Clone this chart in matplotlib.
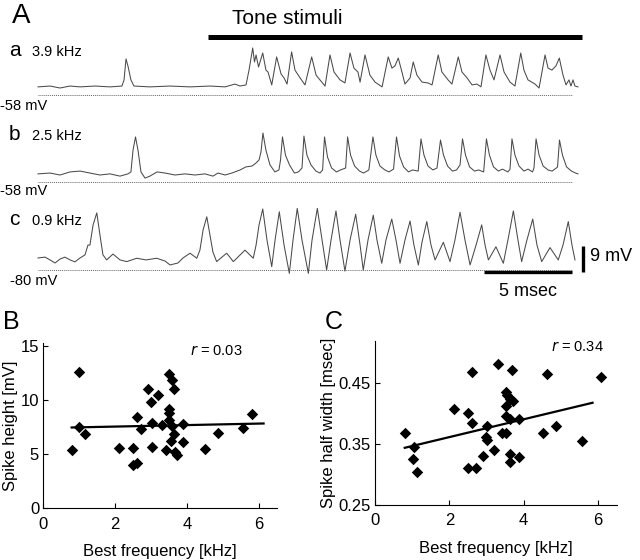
import matplotlib
matplotlib.use("Agg")
import matplotlib.pyplot as plt

plt.rcParams['font.family'] = ['Liberation Sans', 'DejaVu Sans']

# ---------------- Panel A traces (time in ms, voltage in mV above the reference level)
trace_a_t = [0.00, 0.68, 1.25, 1.82, 2.39, 3.24, 4.09, 4.77, 4.89, 5.00, 5.11, 5.28, 5.45, 6.36, 7.50, 8.64,
             9.77, 10.63, 11.19, 11.48, 11.82, 11.99, 12.20, 12.30, 12.39, 12.53, 12.77, 12.95, 13.07, 13.28,
             13.56, 13.81, 13.98, 14.15, 14.41, 14.60, 14.89, 15.17, 15.55, 15.80, 16.02, 16.31, 16.59, 16.82,
             17.16, 17.44, 17.73, 17.95, 18.18, 18.30, 18.58, 18.86, 19.15, 19.55, 19.90, 20.11, 20.28, 20.47,
             20.68, 20.85, 21.14, 21.32, 21.53, 21.82, 22.16, 22.39, 22.74, 22.95, 23.30, 23.52, 23.88, 24.09,
             24.38, 24.66, 24.94, 25.17, 25.45, 25.68, 25.91, 26.25, 26.48, 26.82, 27.10, 27.43, 27.61, 27.84,
             28.24, 28.47, 28.81, 28.98, 29.20, 29.43, 29.62, 29.83, 30.00, 30.17, 30.28, 30.40, 30.51, 30.68]
trace_a_v = [2.9, 3.2, 2.5, 3.2, 2.9, 3.2, 2.9, 3.2, 5.4, 12.9, 10.4, 5.4, 3.2, 2.9, 3.2, 2.9,
             3.2, 2.9, 3.9, 3.2, 3.6, 8.9, 16.8, 11.8, 14.3, 10.0, 15.0, 8.9, 8.2, 3.6,
             13.6, 7.5, 6.1, 3.9, 15.4, 8.9, 6.1, 3.6, 13.6, 7.1, 5.4, 3.2, 14.3, 8.2,
             5.4, 4.3, 15.0, 9.6, 8.2, 4.6, 14.3, 7.1, 4.6, 2.9, 13.6, 9.6, 10.4, 13.2,
             8.2, 3.9, 6.1, 11.8, 7.1, 4.6, 4.3, 3.6, 14.3, 8.2, 5.4, 3.9, 13.6, 8.2,
             6.1, 3.6, 3.9, 2.9, 14.3, 8.9, 5.4, 14.3, 8.2, 4.6, 3.2, 15.0, 8.9, 5.4,
             3.9, 2.5, 14.3, 9.6, 8.9, 10.4, 13.2, 7.1, 3.6, 5.4, 3.2, 5.4, 3.2, 2.9]

trace_b_t = [0.00, 0.68, 1.25, 1.82, 2.39, 2.95, 3.52, 4.09, 4.66, 5.11, 5.28, 5.40, 5.54, 5.68, 5.85, 6.08,
             6.36, 6.76, 7.22, 7.78, 8.35, 8.92, 9.49, 9.94, 10.23, 10.63, 11.02, 11.48, 11.82, 12.16, 12.39,
             12.56, 12.67,
             12.78, 12.95, 13.18, 13.46, 13.69, 13.78,
             13.89, 14.06, 14.29, 14.57, 14.80, 15.00,
             15.11, 15.28, 15.51, 15.79, 16.02, 16.17,
             16.28, 16.45, 16.68, 16.96, 17.19, 17.48,
             17.59, 17.76, 17.99, 18.27, 18.50, 18.80,
             19.03, 19.20, 19.43, 19.71, 19.94, 20.20,
             20.37, 20.54, 20.77, 21.05, 21.28, 21.60,
             21.76, 21.93, 22.16, 22.44, 22.67,
             22.87, 23.04, 23.27, 23.55, 23.78, 23.98,
             24.12, 24.29, 24.52, 24.80, 25.03, 25.32,
             25.48, 25.65, 25.88, 26.16, 26.39, 26.70, 26.82,
             26.93, 27.10, 27.33, 27.61, 27.84, 28.10, 28.18,
             28.30, 28.47, 28.70, 28.98, 29.21, 29.45, 29.52,
             29.63, 29.80, 30.03, 30.31, 30.54, 30.68]
trace_b_v = [2.9, 3.2, 2.5, 3.6, 3.9, 3.2, 2.5, 2.9, 2.1, 2.9, 3.6, 11.4, 16.1, 11.4, 3.6, 1.4,
             2.1, 3.6, 3.2, 2.5, 2.9, 2.5, 2.9, 2.1, 3.2, 2.5, 3.2, 4.3, 5.4, 5.7, 6.8,
             7.9, 10.7,
             17.5, 11.4, 6.1, 3.6, 4.3, 7.9,
             16.1, 9.6, 6.1, 3.2, 3.6, 5.0,
             16.4, 9.6, 6.1, 3.9, 3.2, 4.3,
             16.1, 8.9, 5.0, 3.6, 4.3, 5.0,
             16.1, 9.6, 5.7, 3.9, 3.2, 4.3,
             16.1, 9.6, 5.7, 4.3, 3.6, 4.6,
             16.1, 9.3, 5.4, 3.6, 4.3, 3.9,
             15.4, 9.6, 5.7, 4.3, 5.0,
             15.0, 9.6, 5.7, 3.9, 4.3, 6.1,
             15.4, 9.6, 5.4, 3.9, 4.3, 3.6,
             15.4, 9.6, 5.4, 3.9, 4.6, 3.6, 4.6,
             15.4, 9.6, 5.7, 3.9, 4.6, 3.6, 5.0,
             15.4, 9.6, 5.7, 4.3, 3.9, 5.0, 5.4,
             15.0, 9.6, 5.4, 3.9, 3.2, 2.9]

trace_c_t = [0.00, 0.40, 0.68, 0.97, 1.25, 1.53, 1.82, 2.10, 2.39, 2.67, 2.84, 2.95, 3.13, 3.34, 3.52, 3.69,
             3.90, 4.26, 4.66, 5.04, 5.61, 6.14, 6.74, 7.22, 7.50, 7.95, 8.24, 8.64, 9.02, 9.20, 9.38,
             9.59, 9.77, 9.94, 10.15, 10.72, 11.10, 11.76, 12.23, 12.39, 12.56, 12.77, 13.01, 13.28, 13.47,
             13.71, 13.98, 14.28, 14.49, 14.73, 15.00, 15.36, 15.57, 15.87, 16.14, 16.40, 16.65, 16.93, 17.16,
             17.44, 17.73, 18.05, 18.30, 18.48, 18.75, 19.05, 19.26, 19.53, 19.77, 20.10, 20.34, 20.57, 20.85,
             21.14, 21.36, 21.61, 21.82, 22.09, 22.33, 22.56, 23.03, 23.41, 23.69, 23.98, 24.26, 24.55, 24.89,
             25.21, 25.40, 25.59, 26.02, 26.44, 26.70, 27.01, 27.27, 27.48, 27.78, 28.11, 28.35, 28.62, 29.09,
             29.56, 29.83, 30.13, 30.34, 30.51]
trace_c_v = [4.3, 4.6, 3.6, 2.5, 3.9, 4.6, 3.6, 2.9, 4.3, 5.4, 8.9, 8.9, 16.1, 20.4, 12.5, 5.4,
             3.6, 5.7, 3.6, 3.0, 4.2, 3.6, 4.2, 3.2, 1.8, 2.5, 4.3, 6.0, 4.2, 7.1, 14.3,
             19.0, 12.5, 6.4, 3.0, 6.0, 3.0, 7.1, 4.2, 8.9, 16.1, 21.8, 10.7, 1.2, 10.7,
             20.8, 8.9, -1.2, 10.7, 22.0, 10.7, -1.2, 10.7, 22.0, 10.7, 0.0, 10.7, 21.1, 10.7,
             -0.4, 10.7, 19.9, 8.9, 0.0, 10.7, 19.6, 10.7, 2.4, 10.7, 18.2, 10.7, 2.4, 10.7,
             17.5, 8.9, 1.8, 10.0, 17.3, 8.9, 3.6, 9.9, 3.0, 10.7, 20.6, 10.7, 1.8, 8.9,
             16.1, 8.9, 3.6, 8.3, 2.4, 10.7, 21.1, 10.7, 3.0, 10.7, 18.2, 8.9, 3.0, 8.0,
             3.6, 8.9, 17.3, 8.9, 3.6]

trace_freqs = ['3.9 kHz', '2.5 kHz', '0.9 kHz']
trace_letters = ['a', 'b', 'c']
trace_rest = ['-58 mV', '-58 mV', '-80 mV']
tone_on, tone_off = 9.66, 30.91          # ms
ref_end = 30.34                          # ms, end of dotted reference line
bar_time, bar_volt = 5, 9                # scale bars: 5 msec, 9 mV

# ---------------- Panel B / C data
bf_b = [0.79, 1.0, 1.0, 1.16, 2.11, 2.51, 2.51, 2.62, 2.6, 2.72, 2.91, 3.0, 3.02, 3.02, 3.2, 3.32, 3.42,
        3.5, 3.6, 3.5, 3.5, 3.5, 3.63, 3.6, 3.63, 3.55, 3.67, 3.72, 3.89, 3.9, 4.51, 4.88, 5.58, 5.83]
height_b = [5.38, 12.6, 7.5, 6.86, 5.6, 5.54, 4.0, 4.2, 8.46, 7.38, 11.0, 9.85, 7.9, 5.7, 10.46, 7.7, 5.38,
            12.4, 11.85, 9.23, 8.83, 8.15, 11.0, 7.6, 6.92, 6.25, 5.17, 4.92, 7.8, 6.15, 5.45, 7.0, 7.45, 8.7]
fit_b_x = [0.79, 6.14]
fit_b_y = [7.48, 7.85]

bf_c = [0.80, 1.04, 1.03, 1.14, 2.12, 2.5, 2.62, 2.61, 2.5, 2.72, 2.9, 3.01, 2.99, 3.02, 3.2, 3.3, 3.42,
        3.51, 3.51, 3.54, 3.62, 3.71, 3.51, 3.51, 3.63, 3.62, 3.62, 3.68, 3.88, 3.88, 4.51, 4.62, 4.88,
        5.58, 6.07]
width_c = [0.369, 0.346, 0.325, 0.305, 0.407, 0.401, 0.384, 0.469, 0.310, 0.310, 0.331, 0.380, 0.361,
           0.357, 0.340, 0.482, 0.368, 0.369, 0.436, 0.431, 0.425, 0.421, 0.412, 0.396, 0.391, 0.333,
           0.320, 0.472, 0.391, 0.329, 0.369, 0.465, 0.380, 0.355, 0.460]
fit_c_x = [0.80, 5.85]
fit_c_y = [0.344, 0.418]

# ---------------- Figure
W, H = 640, 560
fig = plt.figure(figsize=(6.4, 5.6), dpi=100)

def ftext(x, y, s, **kw):
    kw.setdefault('va', 'center')
    fig.text(x / W, 1 - y / H, s, **kw)

# Panel A axes: 17.6 px per ms, 2.8 px per mV
pxms, pxmv = 17.6, 2.8
x0 = 38
axA = fig.add_axes([0, 1 - 310 / H, 1, 310 / H])
axA.set_xlim(-x0 / pxms, (W - x0) / pxms)
axA.set_ylim(0, 310 / pxmv)
axA.axis('off')

ref_px = [95, 182, 270]
offsets = [(310 - r) / pxmv for r in ref_px]
traces = [(trace_a_t, trace_a_v), (trace_b_t, trace_b_v), (trace_c_t, trace_c_v)]
for (tt, vv), off in zip(traces, offsets):
    axA.plot(tt, [v + off for v in vv], color='#4a4a4a', lw=0.75, solid_joinstyle='round')
    axA.plot([0, ref_end], [off, off], color='#666666', lw=0.7, ls=(0, (1, 1)))

# tone bar
tone_y = (310 - 37) / pxmv
axA.plot([tone_on, tone_off], [tone_y, tone_y], color='black', lw=3.6, solid_capstyle='butt')

# scale bars
sb_y = (310 - 271.5) / pxmv
axA.plot([ref_end - bar_time, ref_end], [sb_y, sb_y], color='black', lw=2.4, solid_capstyle='butt')
sb_x = (583 - x0) / pxms
axA.plot([sb_x, sb_x], [sb_y, sb_y + bar_volt], color='black', lw=2.4, solid_capstyle='butt')

ftext(12, 16, 'A', fontsize=20, ha='left')
ftext(287, 18, 'Tone stimuli', fontsize=15, ha='center')
lab_y = [51, 135, 220]
rest_y = [106, 191, 281]
rest_x = [0, 0, 10]
for i in range(3):
    ftext(9, lab_y[i], trace_letters[i], fontsize=15, ha='left')
    ftext(32, lab_y[i] + 1, trace_freqs[i], fontsize=10.5, ha='left')
    ftext(rest_x[i], rest_y[i], trace_rest[i], fontsize=10.5, ha='left')
ftext(590, 257, '%d mV' % bar_volt, fontsize=13, ha='left')
ftext(528, 291, '%d msec' % bar_time, fontsize=13, ha='center')

# ---------------- Panels B and C
def style(ax):
    for s in ['top', 'right']:
        ax.spines[s].set_visible(False)
    for s in ['left', 'bottom']:
        ax.spines[s].set_linewidth(0.8)
    ax.tick_params(direction='in', length=3.5, width=0.8, labelsize=12)
    ax.tick_params(axis='y', pad=3)
    ax.tick_params(axis='x', pad=6)

axB = fig.add_axes([43.3 / W, (H - 508.3) / H, (276.5 - 43.3) / W, (508.3 - 343) / H])
axB.scatter(bf_b, height_b, marker='D', s=34, color='black', zorder=3, linewidths=0)
axB.plot(fit_b_x, fit_b_y, color='black', lw=1.6)
axB.set_xlim(0, 6.5)
axB.set_ylim(0, 15.3)
axB.set_xticks([0, 2, 4, 6])
axB.set_yticks([0, 5, 10, 15])
style(axB)
axB.set_xlabel('Best frequency [kHz]', fontsize=12, labelpad=9)
axB.set_ylabel('Spike height [mV]', fontsize=12, labelpad=2)
axB.text(0.63, 0.95, r'$r$ = 0.03', transform=axB.transAxes, fontsize=10.5, ha='left', va='center')

axC = fig.add_axes([375 / W, (H - 505) / H, (616.7 - 375) / W, (505 - 340.7) / H])
axC.scatter(bf_c, width_c, marker='D', s=34, color='black', zorder=3, linewidths=0)
axC.plot(fit_c_x, fit_c_y, color='black', lw=1.6)
axC.set_xlim(0, 6.5)
axC.set_ylim(0.25, 0.52)
axC.set_xticks([0, 2, 4, 6])
axC.set_yticks([0.25, 0.35, 0.45])
style(axC)
axC.set_xlabel('Best frequency [kHz]', fontsize=12, labelpad=9)
axC.set_ylabel('Spike half width [msec]', fontsize=12, labelpad=2)
axC.text(0.73, 0.96, r'$r$ = 0.34', transform=axC.transAxes, fontsize=10.5, ha='left', va='center')

ftext(3, 322, 'B', fontsize=18, ha='left')
ftext(325, 322, 'C', fontsize=18, ha='left')

fig.savefig('out.png', dpi=100)
